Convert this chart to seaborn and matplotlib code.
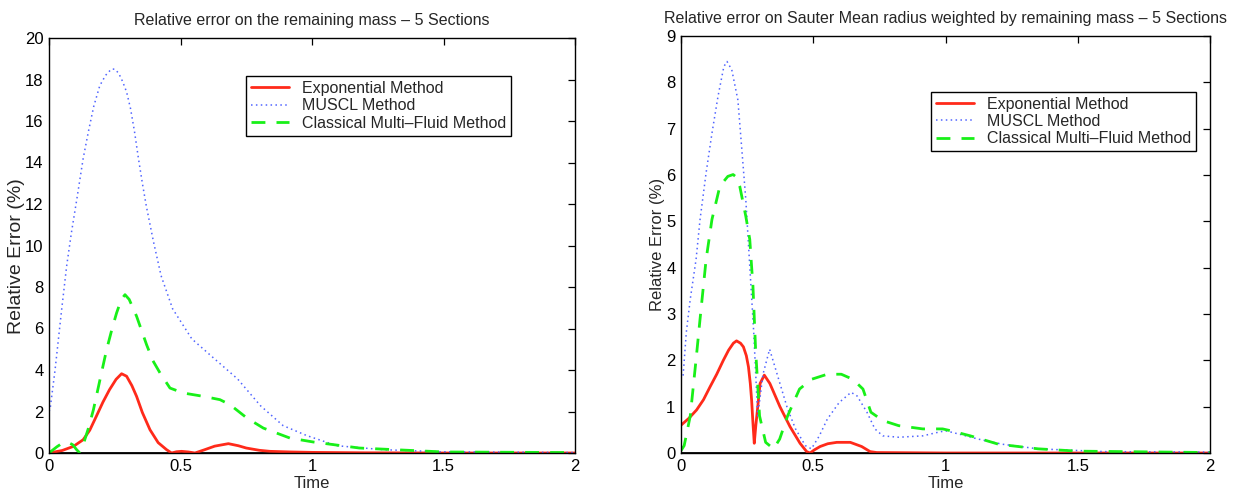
import numpy as np
import pandas as pd
import matplotlib
matplotlib.use("Agg")
import matplotlib.pyplot as plt
import seaborn as sns

# ---------------- data ----------------
# Left panel: relative error on remaining mass
mass_exp_t = [0.0, 0.05, 0.093, 0.13, 0.155, 0.18, 0.205, 0.23, 0.255, 0.276, 0.295, 0.315, 0.333, 0.355,
              0.384, 0.415, 0.447, 0.466, 0.485, 0.504, 0.53, 0.555, 0.59, 0.63, 0.682, 0.72, 0.75, 0.8,
              0.84, 0.92, 1.0, 1.2, 1.5, 2.0]
mass_exp_v = [0.0, 0.12, 0.32, 0.64, 1.1, 1.77, 2.45, 3.05, 3.55, 3.82, 3.7, 3.25, 2.73, 1.95,
              1.12, 0.5, 0.16, 0.0, 0.06, 0.08, 0.05, 0.0, 0.15, 0.33, 0.45, 0.35, 0.24, 0.13,
              0.08, 0.05, 0.03, 0.01, 0.0, 0.0]

mass_muscl_t = [0.0, 0.004, 0.023, 0.048, 0.067, 0.085, 0.106, 0.13, 0.15, 0.17, 0.193, 0.215, 0.237, 0.25,
                0.265, 0.28, 0.295, 0.31, 0.325, 0.34, 0.355, 0.37, 0.397, 0.426, 0.47, 0.543, 0.63, 0.717,
                0.804, 0.89, 0.98, 1.095, 1.27, 1.49, 2.0]
mass_muscl_v = [2.0, 2.1, 4.0, 6.9, 9.0, 10.6, 12.25, 14.2, 15.5, 16.7, 17.7, 18.2, 18.5, 18.5,
                18.3, 17.9, 17.4, 16.6, 15.5, 14.2, 13.0, 11.9, 10.2, 8.55, 6.95, 5.5, 4.53, 3.57,
                2.28, 1.32, 0.84, 0.35, 0.16, 0.06, 0.02]

mass_cmf_t = [0.0, 0.03, 0.055, 0.073, 0.09, 0.105, 0.115, 0.13, 0.15, 0.169, 0.195, 0.219, 0.24, 0.257,
              0.275, 0.289, 0.305, 0.333, 0.371, 0.395, 0.422, 0.46, 0.511, 0.587, 0.65, 0.688, 0.752,
              0.815, 0.916, 1.005, 1.18, 1.5, 2.0]
mass_cmf_v = [0.0, 0.3, 0.51, 0.51, 0.4, 0.16, 0.03, 0.4, 1.2, 2.09, 3.6, 4.98, 6.0, 6.75,
              7.4, 7.63, 7.4, 6.59, 5.22, 4.45, 3.86, 3.13, 2.89, 2.73, 2.57, 2.33, 1.69,
              1.2, 0.72, 0.53, 0.24, 0.05, 0.02]

# Right panel: relative error on Sauter mean radius
sm_exp_t = [0.0, 0.03, 0.059, 0.085, 0.11, 0.135, 0.16, 0.18, 0.198, 0.21, 0.225, 0.236, 0.247, 0.255,
            0.262, 0.267, 0.272, 0.277, 0.283, 0.289, 0.299, 0.315, 0.336, 0.355, 0.374, 0.412, 0.45,
            0.475, 0.488, 0.505, 0.526, 0.555, 0.589, 0.64, 0.683, 0.715, 0.74, 1.0, 2.0]
sm_exp_v = [0.6, 0.75, 0.93, 1.15, 1.43, 1.7, 2.0, 2.22, 2.37, 2.42, 2.37, 2.29, 2.1, 1.86,
            1.5, 1.14, 0.65, 0.21, 0.6, 0.93, 1.5, 1.68, 1.5, 1.25, 1.0, 0.57, 0.21,
            0.03, 0.0, 0.07, 0.14, 0.2, 0.23, 0.23, 0.14, 0.03, 0.01, 0.0, 0.0]

sm_muscl_t = [0.008, 0.02, 0.035, 0.057, 0.072, 0.095, 0.117, 0.14, 0.162, 0.174, 0.192, 0.215, 0.23, 0.245,
              0.26, 0.275, 0.29, 0.31, 0.335, 0.373, 0.403, 0.433, 0.47, 0.493, 0.523, 0.553, 0.598, 0.643,
              0.666, 0.703, 0.733, 0.763, 0.823, 0.914, 0.974, 1.0, 1.05, 1.124, 1.214, 1.35, 1.6, 2.0]
sm_muscl_v = [1.67, 2.6, 3.32, 4.18, 5.04, 6.05, 6.9, 7.7, 8.34, 8.45, 8.27, 7.62, 6.55, 5.47,
              4.03, 2.6, 0.8, 1.7, 2.24, 1.52, 0.95, 0.52, 0.16, 0.09, 0.37, 0.73, 1.09, 1.31,
              1.23, 0.88, 0.52, 0.37, 0.34, 0.37, 0.45, 0.48, 0.41, 0.3, 0.19, 0.09, 0.03, 0.02]

sm_cmf_t = [0.0, 0.012, 0.035, 0.057, 0.072, 0.095, 0.117, 0.147, 0.177, 0.197, 0.21, 0.222, 0.245, 0.26,
            0.272, 0.282, 0.297, 0.32, 0.35, 0.373, 0.403, 0.448, 0.493, 0.553, 0.606, 0.65, 0.688, 0.718,
            0.763, 0.823, 0.914, 0.989, 1.02, 1.094, 1.2, 1.35, 1.5, 2.0]
sm_cmf_v = [0.05, 0.16, 0.8, 2.02, 2.89, 4.18, 5.04, 5.76, 5.97, 6.01, 5.95, 5.76, 5.11, 4.61,
            3.6, 2.24, 0.8, 0.23, 0.09, 0.3, 0.8, 1.38, 1.59, 1.70, 1.70, 1.59, 1.38, 0.88,
            0.70, 0.59, 0.52, 0.52, 0.48, 0.37, 0.19, 0.09, 0.04, 0.01]

method_names = ["Exponential Method", "MUSCL Method", "Classical Multi\u2013Fluid Method"]
x_ticks = [0, 0.5, 1, 1.5, 2]
x_tick_labels = ["0", "0.5", "1", "1.5", "2"]
left_y_ticks = list(range(0, 21, 2))
right_y_ticks = list(range(0, 10))
titles = ["Relative error on the remaining mass \u2013 5 Sections",
          "Relative error on Sauter Mean radius weighted by remaining mass \u2013 5 Sections"]

# ---------------- styling ----------------
sns.set_style("white")
plt.rcParams["font.family"] = ["Liberation Sans", "DejaVu Sans"]
plt.rcParams["axes.linewidth"] = 1.0

colors = {method_names[0]: "#ff2a1a", method_names[1]: "#5064ff", method_names[2]: "#18f018"}
styles = {method_names[0]: (None, 2.0), method_names[1]: ((0, (1, 2.2)), 1.1), method_names[2]: ((0, (5, 4)), 2.0)}


def make_df(series):
    frames = []
    for name, (t, v) in zip(method_names, series):
        frames.append(pd.DataFrame({"Time": t, "Error": v, "Method": name}))
    return pd.concat(frames, ignore_index=True)


fig = plt.figure(figsize=(12.43, 4.93), dpi=100)
ax1 = fig.add_axes([49 / 1243, 40 / 493, 526 / 1243, 415 / 493])
ax2 = fig.add_axes([681 / 1243, 40 / 493, 529 / 1243, 417 / 493])

panels = [
    (ax1, make_df([(mass_exp_t, mass_exp_v), (mass_muscl_t, mass_muscl_v), (mass_cmf_t, mass_cmf_v)]),
     20, left_y_ticks, (0.3745, 0.908), 14, (-0.0627, 0.475)),
    (ax2, make_df([(sm_exp_t, sm_exp_v), (sm_muscl_t, sm_muscl_v), (sm_cmf_t, sm_cmf_v)]),
     9, right_y_ticks, (0.4726, 0.866), 12, (-0.045, 0.5)),
]

for i, (ax, df, ymax, yt, anchor, ylab_fs, ylab_pos) in enumerate(panels):
    for name in method_names:
        sub = df[df["Method"] == name]
        ls, lw = styles[name]
        sns.lineplot(data=sub, x="Time", y="Error", ax=ax, label=name, sort=False,
                     estimator=None, lw=lw, color=colors[name])
        if ls is not None:
            ax.lines[-1].set_linestyle(ls)
    ax.axhline(0, color="black", lw=2.0, zorder=1)
    ax.set_xlim(0, 2)
    ax.set_ylim(0, ymax)
    ax.set_xticks(x_ticks)
    ax.set_xticklabels(x_tick_labels)
    ax.set_yticks(yt)
    ax.tick_params(direction="in", length=5, width=0.9, top=True, right=True,
                   labelsize=12, colors="black", pad=4)
    for s in ax.spines.values():
        s.set_color("black")
        s.set_visible(True)
    ax.set_xlabel("Time", fontsize=12, labelpad=2)
    ax.set_ylabel("Relative Error (%)", fontsize=ylab_fs)
    ax.yaxis.label.set_va("center")
    ax.yaxis.set_label_coords(*ylab_pos)
    ax.set_title(titles[i], fontsize=11.5, pad=9)
    leg = ax.legend(loc="upper left", bbox_to_anchor=anchor, borderaxespad=0, fontsize=11.5,
                    frameon=True, fancybox=False, framealpha=1, edgecolor="black",
                    handlelength=2.4, handletextpad=0.8, labelspacing=0.15,
                    borderpad=0.3)
    leg.get_frame().set_linewidth(1.0)

fig.savefig("out.png", dpi=100)
